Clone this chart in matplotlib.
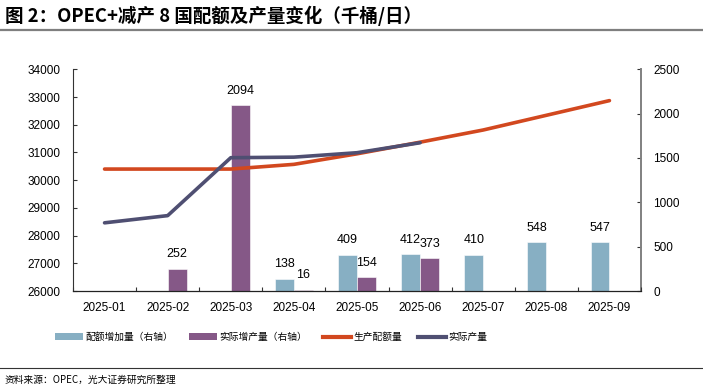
import numpy as np
import matplotlib

matplotlib.use("Agg")
import matplotlib.pyplot as plt
from matplotlib.patches import Patch
from matplotlib.lines import Line2D

plt.rcParams["font.family"] = ["Liberation Sans", "Noto Sans CJK SC"]

# --- data (千桶/日) ---
months = ["2025-01", "2025-02", "2025-03", "2025-04", "2025-05",
          "2025-06", "2025-07", "2025-08", "2025-09"]
quota = [30400, 30400, 30400, 30570, 30950, 31370, 31810, 32340, 32870]
actual = [28460, 28720, 30810, 30830, 30990, 31350]
quota_inc = [None, None, None, 138, 409, 412, 410, 548, 547]
actual_inc = [None, 252, 2094, 16, 154, 373, None, None, None]

C_BLUE = "#87afc3"
C_PURPLE = "#855887"
C_RED = "#d2481f"
C_NAVY = "#4f4f72"

fig = plt.figure(figsize=(7.03, 3.90), dpi=100)
ax = fig.add_axes([73 / 703, 1 - 291 / 390, 568 / 703, (291 - 69.3) / 390])
ax2 = ax.twinx()

x = np.arange(len(months))
w = 0.3

# bars on right axis
for i, v in enumerate(quota_inc):
    if v is None:
        continue
    ax2.bar(x[i] - w / 2, v, w, color=C_BLUE, edgecolor="white", lw=0.4, zorder=2)
    ax2.annotate(str(v), (x[i] - w / 2, v), xytext=(0, 6),
                 textcoords="offset points", ha="center", va="bottom", fontsize=9)
for i, v in enumerate(actual_inc):
    if v is None:
        continue
    ax2.bar(x[i] + w / 2, v, w, color=C_PURPLE, edgecolor="white", lw=0.4, zorder=2)
    ax2.annotate(str(v), (x[i] + w / 2, v), xytext=(0, 6),
                 textcoords="offset points", ha="center", va="bottom", fontsize=9)

# lines on left axis, drawn above the bars
ax.set_zorder(ax2.get_zorder() + 1)
ax.patch.set_visible(False)
ax.plot(x, quota, color=C_RED, lw=2.6, solid_capstyle="round", zorder=3)
ax.plot(x[:len(actual)], actual, color=C_NAVY, lw=2.6,
        solid_capstyle="round", zorder=4)

ax.set_xlim(-0.5, len(months) - 0.5)
ax.set_ylim(26000, 34000)
ax.set_yticks(np.arange(26000, 34001, 1000))
ax2.set_ylim(0, 2500)
ax2.set_yticks(np.arange(0, 2501, 500))

ax.set_xticks(x)
ax.set_xticklabels(months, fontsize=8.5)
ax.set_xticks(np.arange(-0.5, len(months), 1.0), minor=True)
ax.tick_params(axis="x", which="major", length=0, pad=8)
ax.tick_params(axis="x", which="minor", direction="in", length=3, width=0.8,
               color="#333333")
ax.tick_params(axis="y", direction="in", length=3, width=0.8, labelsize=8.5,
               pad=9, color="#333333")
ax2.tick_params(axis="y", direction="in", length=3, width=0.8, labelsize=8.5,
                pad=9, color="#333333")

for a in (ax, ax2):
    a.spines["top"].set_visible(False)
ax.spines["right"].set_visible(False)
ax.spines["left"].set_color("#333333")
ax.spines["left"].set_linewidth(0.8)
ax.spines["bottom"].set_color("#222222")
ax.spines["bottom"].set_linewidth(0.9)
ax2.spines["left"].set_visible(False)
ax2.spines["bottom"].set_visible(False)
ax2.spines["right"].set_color("#808080")
ax2.spines["right"].set_linewidth(1.4)

# legend
handles = [
    Patch(facecolor=C_BLUE, edgecolor="none", label="配额增加量（右轴）"),
    Patch(facecolor=C_PURPLE, edgecolor="none", label="实际增产量（右轴）"),
    Line2D([], [], color=C_RED, lw=3, label="生产配额量"),
    Line2D([], [], color=C_NAVY, lw=3, label="实际产量"),
]
fig.legend(handles=handles, loc="center left", bbox_to_anchor=(55 / 703, 1 - 337 / 390),
           ncol=4, frameon=False, prop={"family": "Noto Sans CJK SC", "size": 7},
           handlelength=2.9, handleheight=0.75, handletextpad=0.25,
           columnspacing=1.6, borderaxespad=0, borderpad=0)

# title and source
fig.text(5 / 703, 1 - 16 / 390, "图 2：OPEC+减产 8 国配额及产量变化（千桶/日）",
         fontsize=13.3, fontweight="bold", family="Noto Sans CJK SC",
         ha="left", va="center")
fig.add_artist(Line2D([0, 1], [1 - 30 / 390] * 2, color="#7f7f7f", lw=1.6,
                      transform=fig.transFigure))
fig.add_artist(Line2D([0, 1], [1 - 368 / 390] * 2, color="#333333", lw=0.8,
                      transform=fig.transFigure))
fig.text(5 / 703, 1 - 380 / 390, "资料来源：OPEC，光大证券研究所整理",
         fontsize=7, family="Noto Sans CJK SC", ha="left", va="center")

fig.savefig("out.png", dpi=100)
